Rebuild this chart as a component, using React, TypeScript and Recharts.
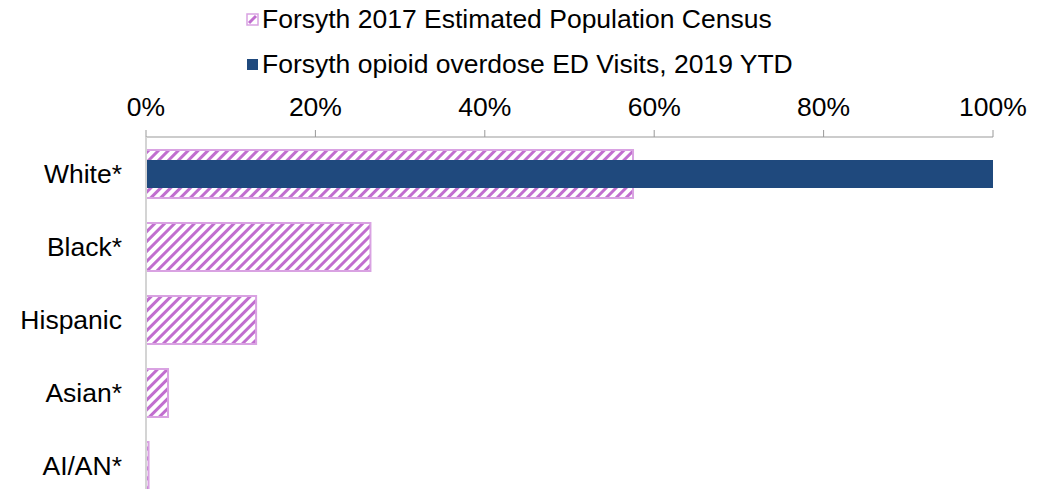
import React from "react";
import { BarChart, Bar, XAxis, YAxis, Legend } from "recharts";

const categories = ["White*", "Black*", "Hispanic", "Asian*", "AI/AN*"];
const censusShare = [57.5, 26.5, 13, 2.6, 0.3];
const edVisitShare = [100, 0, 0, 0, 0];
const xTicks = [0, 20, 40, 60, 80, 100];

const SERIES_CENSUS = "Forsyth 2017 Estimated Population Census";
const SERIES_ED = "Forsyth opioid overdose ED Visits, 2019 YTD";

const data = categories.map((name, i) => ({
  name,
  census: censusShare[i],
  ed: edVisitShare[i],
}));

const FONT = "'Liberation Sans', Arial, sans-serif";
const FS = 26.5;
const HATCH = "#c16ecf";
const HATCH_BORDER = "#d9a2e2";
const NAVY = "#1f497d";

function LegendBox() {
  const row = (label: string, hatch: boolean) => (
    <div style={{ display: "flex", alignItems: "center", height: 45 }}>
      <svg width={14} height={14} style={{ marginRight: 2 }}>
        {hatch ? (
          <>
            <rect x={1} y={1} width={11} height={11} fill="#fff" stroke={HATCH_BORDER} strokeWidth={1.5} />
            <path d="M3 10 L10 3" stroke={HATCH} strokeWidth={3} />
          </>
        ) : (
          <rect x={1} y={1} width={11} height={11} fill={NAVY} />
        )}
      </svg>
      <span style={{ fontFamily: FONT, fontSize: FS, color: "#000" }}>{label}</span>
    </div>
  );
  return (
    <div>
      {row(SERIES_CENSUS, true)}
      {row(SERIES_ED, false)}
    </div>
  );
}

export default function App() {
  return (
    <div
      style={{
        position: "absolute",
        left: 0,
        top: 0,
        width: 1048,
        height: 489,
        overflow: "hidden",
        background: "#fff",
      }}
    >
      <BarChart
        width={1048}
        height={502}
        data={data}
        layout="vertical"
        margin={{ top: 107, right: 55, left: 0, bottom: 0 }}
        barGap={0}
      >
        <defs>
          <pattern
            id="hatch"
            patternUnits="userSpaceOnUse"
            width={7}
            height={7}
            patternTransform="rotate(45)"
          >
            <rect width={7} height={7} fill="#fff" />
            <rect x={0} y={0} width={3} height={7} fill={HATCH} />
          </pattern>
        </defs>
        <XAxis
          type="number"
          orientation="top"
          domain={[0, 100]}
          ticks={xTicks}
          tickFormatter={(v) => `${v}%`}
          height={30}
          axisLine={{ stroke: "#999" }}
          tickLine={{ stroke: "#999" }}
          tickSize={7}
          tickMargin={14}
          tick={{ fill: "#000", fontSize: FS, fontFamily: FONT }}
        />
        <YAxis
          yAxisId="census"
          type="category"
          dataKey="name"
          width={146}
          axisLine={{ stroke: "#d4d4d4", strokeWidth: 2 }}
          tickLine={false}
          tickMargin={18}
          tick={{ fill: "#000", fontSize: FS, fontFamily: FONT }}
        />
        <YAxis yAxisId="ed" type="category" dataKey="name" hide />
        <Legend
          verticalAlign="middle"
          align="center"
          layout="horizontal"
          content={() => <LegendBox />}
          wrapperStyle={{ top: -3, left: 246, width: 700, height: 90 }}
        />
        <Bar
          yAxisId="census"
          dataKey="census"
          name={SERIES_CENSUS}
          barSize={48}
          fill="url(#hatch)"
          stroke={HATCH_BORDER}
          strokeWidth={2}
          isAnimationActive={false}
        />
        <Bar
          yAxisId="ed"
          dataKey="ed"
          name={SERIES_ED}
          barSize={28}
          fill={NAVY}
          isAnimationActive={false}
        />
      </BarChart>
    </div>
  );
}
